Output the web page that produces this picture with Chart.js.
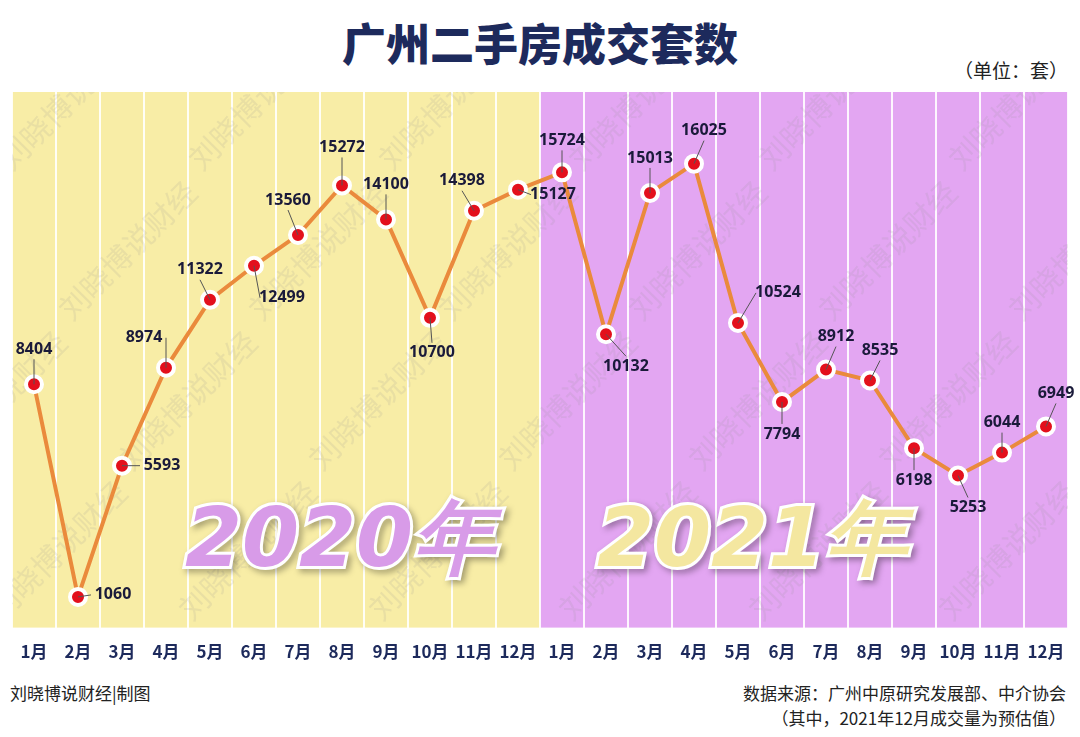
<!DOCTYPE html>
<html><head><meta charset="utf-8">
<script src="https://cdn.jsdelivr.net/npm/chart.js@4"></script>
<style>
body{margin:0;width:1080px;height:737px;background:#fff;font-family:"Noto Sans CJK SC",sans-serif;position:relative;overflow:hidden}
#t{position:absolute;top:10px;width:100%;text-align:center;font-size:44px;font-weight:900;color:#1d2a5c}
#u{position:absolute;top:56px;right:12px;font-size:19px;color:#222}
#f1{position:absolute;top:680px;left:10px;font-size:17px;color:#222}
#f2{position:absolute;top:680px;right:14px;font-size:17px;color:#222;text-align:right;line-height:25px}
#w{position:absolute;left:0;top:80px;width:1080px;height:596px}
</style></head><body>
<div id="t">广州二手房成交套数</div>
<div id="u">（单位：套）</div>
<div id="w"><canvas id="c"></canvas></div>
<div id="f1">刘晓博说财经|制图</div>
<div id="f2">数据来源：广州中原研究发展部、中介协会<br>（其中，2021年12月成交量为预估值）</div>
<script>
const months = ["1月","2月","3月","4月","5月","6月","7月","8月","9月","10月","11月","12月","1月","2月","3月","4月","5月","6月","7月","8月","9月","10月","11月","12月"];
const values2020 = [8404,1060,5593,8974,11322,12499,13560,15272,14100,10700,14398,15127];
const values2021 = [15724,10132,15013,16025,10524,7794,8912,8535,6198,5253,6044,6949];
const values = values2020.concat(values2021);
// label offsets [dx, dy] relative to point
const labelOffsets = [[0,-35],[35,-2],[40,0],[-22,-30],[-10,-30],[28,32],[-10,-35],[0,-38],[0,-35],[2,35],[-12,-30],[35,5],[0,-32],[20,32],[0,-35],[10,-33],[40,-30],[0,32],[10,-33],[10,-30],[0,32],[10,32],[0,-30],[10,-33]];

const bgPlugin = {
  id:'bg',
  beforeDraw(ch){
    const {ctx, chartArea:a, scales:{x}} = ch;
    const mid = (x.getPixelForValue(11)+x.getPixelForValue(12))/2;
    ctx.save();
    ctx.fillStyle='#f8eda6'; ctx.fillRect(a.left,a.top,mid-a.left,a.bottom-a.top);
    ctx.fillStyle='#e3a6f2'; ctx.fillRect(mid,a.top,a.right-mid,a.bottom-a.top);
    ctx.restore();
  },
  beforeDatasetsDraw(ch){
    const {ctx, chartArea:a} = ch;
    ctx.save();
    ctx.beginPath();ctx.rect(a.left,a.top,a.right-a.left,a.bottom-a.top);ctx.clip();
    ctx.fillStyle='rgba(150,150,150,0.15)';
    ctx.font='30px "Noto Sans CJK SC"';
    for(let i=-2;i<8;i++)for(let j=-1;j<5;j++){
      ctx.save();ctx.translate(a.left+i*190+j*60,a.top+80+j*150);ctx.rotate(-Math.PI/4);
      ctx.fillText('刘晓博说财经',0,0);ctx.restore();
    }
    ctx.font='italic 900 82px "DejaVu Sans"';
    ctx.textAlign='center';ctx.textBaseline='middle';
    ctx.lineWidth=6;ctx.strokeStyle='#fff';
    [['2020年','#d89be8',340],['2021年','#f4e7a0',752]].forEach(([t,c,px])=>{
      ctx.shadowColor='rgba(0,0,0,0.35)';ctx.shadowBlur=6;ctx.shadowOffsetX=3;ctx.shadowOffsetY=3;
      ctx.strokeText(t,px,465);
      ctx.shadowColor='transparent';
      ctx.fillStyle=c;ctx.fillText(t,px,465);
    });
    ctx.restore();
  }
};
const labelPlugin = {
  id:'lbl',
  afterDatasetsDraw(ch){
    const {ctx}=ch; const pts=ch.getDatasetMeta(0).data;
    ctx.save();ctx.font='bold 16px "Noto Sans"';ctx.fillStyle='#1a1a3a';
    ctx.textAlign='center';ctx.textBaseline='middle';ctx.strokeStyle='#555';ctx.lineWidth=1;
    pts.forEach((p,i)=>{
      const [dx,dy]=labelOffsets[i];
      const lx=p.x+dx, ly=p.y+dy;
      ctx.beginPath();ctx.moveTo(p.x,p.y);
      ctx.lineTo(lx+(dx>20?-22:dx<-20?22:0), ly+(Math.abs(dx)>20?0:(dy<0?10:-10)));ctx.stroke();
      ctx.fillText(values[i],lx,ly);
    });
    ctx.restore();
  }
};
new Chart(document.getElementById('c'),{
  type:'line',
  data:{labels:months,datasets:[{data:values,borderColor:'#ea8a3c',borderWidth:4,tension:0,
    pointRadius:8,pointBackgroundColor:'#e3101c',pointBorderColor:'#fff',pointBorderWidth:4}]},
  options:{responsive:true,maintainAspectRatio:false,animation:false,
    layout:{padding:{left:8,right:10,top:12,bottom:0}},
    plugins:{legend:{display:false},tooltip:{enabled:false}},
    scales:{
      x:{offset:true,grid:{offset:true,color:'rgba(255,255,255,0.9)',lineWidth:2,drawTicks:false},border:{display:false},
        ticks:{color:'#1d2a5c',font:{size:17,weight:'bold',family:'"Noto Sans CJK SC"'},padding:14,maxRotation:0,autoSkip:false}},
      y:{display:false,min:0,max:18500}
    }}
  ,plugins:[bgPlugin,labelPlugin]
});
</script>
</body></html>
